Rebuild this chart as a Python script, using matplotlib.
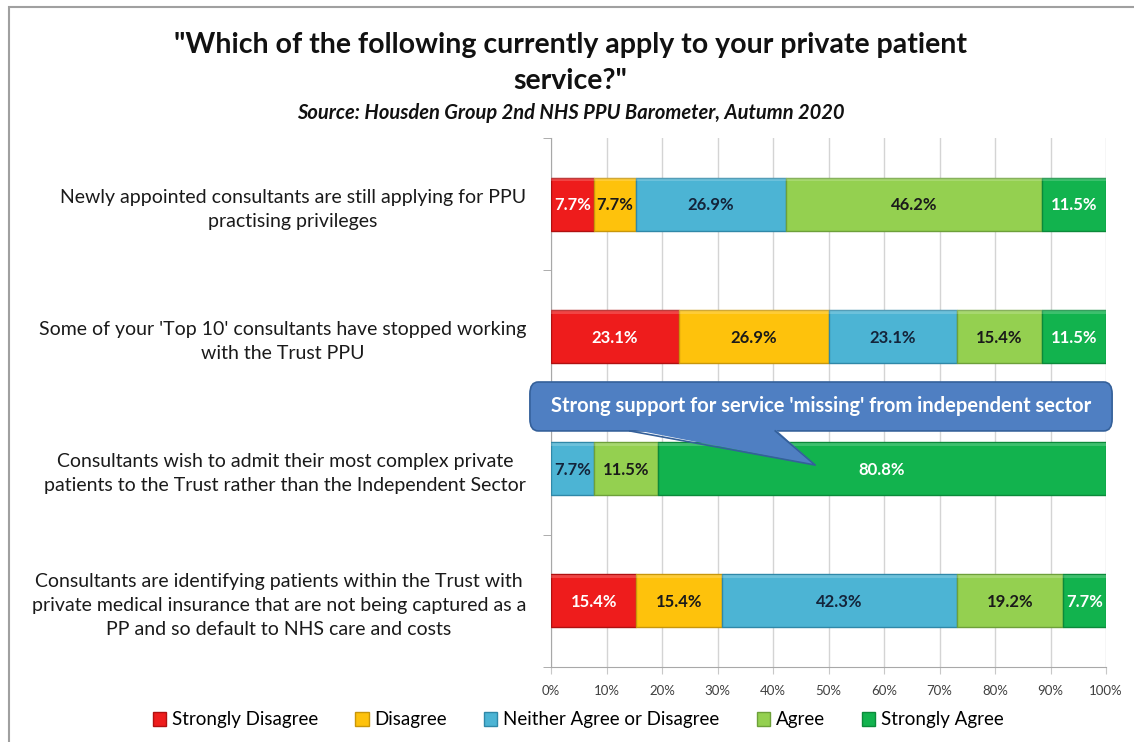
import numpy as np
import matplotlib.pyplot as plt
from matplotlib.patches import FancyBboxPatch, Polygon, Rectangle, Patch

plt.rcParams['font.family'] = ['Lato', 'DejaVu Sans']

questions = [
    "Newly appointed consultants are still applying for PPU\npractising privileges",
    "Some of your 'Top 10' consultants have stopped working\nwith the Trust PPU",
    "Consultants wish to admit their most complex private\npatients to the Trust rather than the Independent Sector",
    "Consultants are identifying patients within the Trust with\nprivate medical insurance that are not being captured as a\nPP and so default to NHS care and costs",
]
responses = ['Strongly Disagree', 'Disagree', 'Neither Agree or Disagree', 'Agree', 'Strongly Agree']

strongly_disagree = [7.7, 23.1, 0.0, 15.4]
disagree = [7.7, 26.9, 0.0, 15.4]
neither = [26.9, 23.1, 7.7, 42.3]
agree = [46.2, 15.4, 11.5, 19.2]
strongly_agree = [11.5, 11.5, 80.8, 7.7]

series = [strongly_disagree, disagree, neither, agree, strongly_agree]
colors = ['#ee1c1c', '#fec20c', '#4cb4d4', '#94d050', '#12b34e']
edges = ['#b01010', '#c8960a', '#2f88a8', '#6da03a', '#0b8a3a']
text_colors = ['white', '#1a1a1a', '#14243a', '#1a1a1a', 'white']

fig = plt.figure(figsize=(11.34, 7.42), dpi=100)
ax = fig.add_axes([551 / 1134, 1 - 667 / 742, 555 / 1134, 529 / 742])

y = np.arange(len(questions))
left = np.zeros(len(questions))
for vals, col, ec, tc in zip(series, colors, edges, text_colors):
    vals = np.array(vals)
    ax.barh(y, vals, left=left, height=0.4, color=col, edgecolor=ec, linewidth=1.0, zorder=3)
    # faint highlight along the top of each bar
    ax.barh(y - 0.185, vals, left=left, height=0.025, color='white', alpha=0.18, linewidth=0, zorder=4)
    for yi, v, l in zip(y, vals, left):
        if v > 0:
            ax.text(l + v / 2, yi + 0.01, f'{v:.1f}%', ha='center', va='center',
                    fontsize=12, fontweight='bold', color=tc, zorder=6)
    left += vals

ax.set_xlim(0, 100)
ax.set_ylim(3.5, -0.5)
ax.set_xticks(np.arange(0, 101, 10))
ax.set_xticklabels([f'{t}%' for t in range(0, 101, 10)], fontsize=9.5, color='#404040')
ax.grid(axis='x', color='#d4d4d4', linewidth=1.0, zorder=0)
ax.set_yticks(y)
ax.set_yticklabels(questions, fontsize=14, color='#1a1a1a')
for lbl in ax.get_yticklabels():
    lbl.set_multialignment('center')
    lbl.set_linespacing(1.5)
ax.set_yticks([-0.5, 0.5, 1.5, 2.5, 3.5], minor=True)
ax.tick_params(axis='y', which='major', length=0, pad=18)
ax.tick_params(axis='y', which='minor', length=6, color='#a0a0a0')
ax.tick_params(axis='x', length=5, color='#c8c8c8', pad=8)
for s in ['top', 'right']:
    ax.spines[s].set_visible(False)
ax.spines['left'].set_color('#a8a8a8')
ax.spines['bottom'].set_color('#a8a8a8')

# callout over the third bar
box_fc, box_ec = '#4f7fc2', '#34609a'
box = FancyBboxPatch((-3.8, 1.345), 104.9, 0.37, boxstyle='round,pad=0,rounding_size=1.5',
                     mutation_aspect=0.06, facecolor=box_fc, edgecolor=box_ec,
                     linewidth=1.2, clip_on=False, zorder=7)
ax.add_patch(box)
tail = [(14.2, 1.70), (40.4, 1.70), (47.6, 1.973)]
ax.add_patch(Polygon(tail, closed=True, facecolor=box_fc, edgecolor='none', clip_on=False, zorder=8))
ax.plot([14.2, 47.6, 40.4], [1.715, 1.973, 1.715], color=box_ec, linewidth=1.2, clip_on=False, zorder=8)
ax.text(48.6, 1.53, "Strong support for service 'missing' from independent sector",
        ha='center', va='center', fontsize=14.5, fontweight='bold', color='white', zorder=9)

fig.text(0.503, 1 - 45 / 742, '"Which of the following currently apply to your private patient',
         ha='center', va='center', fontsize=20.5, fontweight='bold', color='#111111')
fig.text(0.503, 1 - 81 / 742, 'service?"', ha='center', va='center',
         fontsize=20.5, fontweight='bold', color='#111111')
fig.text(0.503, 1 - 113 / 742, 'Source: Housden Group 2nd NHS PPU Barometer, Autumn 2020',
         ha='center', va='center', fontsize=14.5, fontweight='bold', style='italic', color='#111111')

handles = [Patch(facecolor=c, edgecolor=e) for c, e in zip(colors, edges)]
fig.legend(handles, responses, loc='center', bbox_to_anchor=(0.51, 1 - 720 / 742), ncol=5,
           frameon=False, fontsize=13.5, handlelength=0.7, handleheight=0.7,
           handletextpad=0.3, columnspacing=2.0)

# outer chart frame
fig.patches.append(Rectangle((9 / 1134, -0.1), 1.2, 1 - 7 / 742 + 0.1, transform=fig.transFigure,
                             facecolor='none', edgecolor='#a0a0a0', linewidth=1.5))

fig.savefig('out.png', dpi=100)
